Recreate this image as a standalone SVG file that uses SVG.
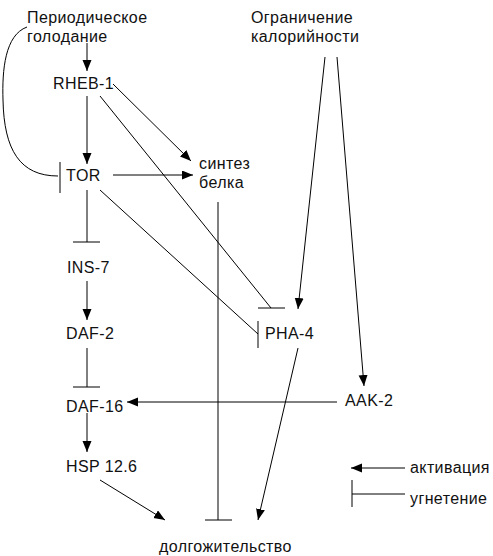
<svg xmlns="http://www.w3.org/2000/svg" width="493" height="556" viewBox="0 0 493 556">
<defs>
<marker id="arr" markerUnits="userSpaceOnUse" markerWidth="12" markerHeight="10" refX="11" refY="4.5" orient="auto">
<path d="M0,0 L11,4.5 L0,9 z" fill="#000"/>
</marker>
<style>
text{font-family:"Liberation Sans",Arial,sans-serif;font-size:16px;fill:#111;letter-spacing:0.4px}
.c line,.c path{stroke:#000;stroke-width:1;fill:none}
.a{marker-end:url(#arr)}
</style>
</defs>
<rect width="493" height="556" fill="#fff"/>
<g class="c" id="connectors">
<line class="a" x1="87" y1="43" x2="87" y2="71"/>
<line class="a" x1="87" y1="96" x2="87" y2="164"/>
<path d="M27,27 C5,35 2,70 3,100 C4,150 20,176 58,176"/>
<line x1="60" y1="162" x2="60" y2="193"/>
<line class="a" x1="113" y1="84" x2="191" y2="161"/>
<line x1="100" y1="96" x2="271" y2="308"/>
<line x1="258" y1="308" x2="285" y2="308"/>
<line class="a" x1="113" y1="175" x2="193" y2="175"/>
<line x1="100" y1="190" x2="258" y2="334"/>
<line x1="258" y1="321" x2="258" y2="348"/>
<line x1="87" y1="190" x2="87" y2="242"/>
<line x1="73" y1="242" x2="100" y2="242"/>
<line class="a" x1="87" y1="281" x2="87" y2="320"/>
<line x1="87" y1="348" x2="87" y2="387"/>
<line x1="73" y1="387" x2="100" y2="387"/>
<line class="a" x1="337" y1="402" x2="127" y2="402"/>
<line class="a" x1="87" y1="413" x2="87" y2="452"/>
<line class="a" x1="100" y1="480" x2="165" y2="520"/>
<line x1="218" y1="202" x2="218" y2="520"/>
<line x1="205" y1="520" x2="232" y2="520"/>
<line class="a" x1="298" y1="348" x2="258" y2="520"/>
<line class="a" x1="325" y1="57" x2="298" y2="309"/>
<line class="a" x1="337" y1="57" x2="364" y2="386"/>
<line class="a" x1="405" y1="468" x2="351" y2="468"/>
<line x1="352" y1="494" x2="405" y2="494"/>
<line x1="352" y1="480" x2="352" y2="507"/>
</g>
<g id="periodic"><text x="27" y="23">Периодическое</text><text x="27" y="42">голодание</text></g>
<g id="caloric"><text x="251" y="23">Ограничение</text><text x="251" y="42">калорийности</text></g>
<g id="rheb1"><text x="53" y="89">RHEB-1</text></g>
<g id="tor"><text x="66" y="181">TOR</text></g>
<g id="synthesis"><text x="199" y="169">синтез</text><text x="199" y="188">белка</text></g>
<g id="ins7"><text x="67" y="273">INS-7</text></g>
<g id="daf2"><text x="66" y="339">DAF-2</text></g>
<g id="pha4"><text x="265" y="339">PHA-4</text></g>
<g id="aak2"><text x="345" y="406">AAK-2</text></g>
<g id="daf16"><text x="66" y="412">DAF-16</text></g>
<g id="hsp"><text x="66" y="472">HSP 12.6</text></g>
<g id="longevity"><text x="159" y="552">долгожительство</text></g>
<g id="legend"><text x="410" y="473">активация</text><text x="410" y="504">угнетение</text></g>
</svg>
